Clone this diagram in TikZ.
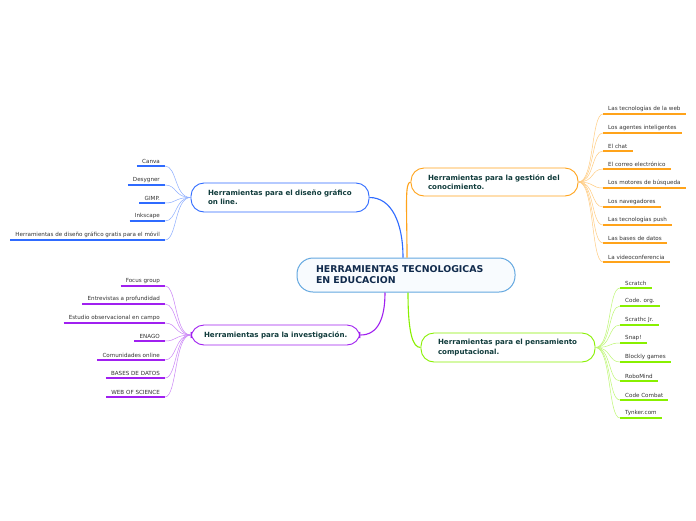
\documentclass[tikz,border=0pt]{standalone}
\usepackage{fontspec}
\setmainfont{DejaVu Sans}
\usetikzlibrary{positioning}

\definecolor{azul}{HTML}{2F6BFF}
\definecolor{naranja}{HTML}{FFA31A}
\definecolor{morado}{HTML}{A020F0}
\definecolor{verde}{HTML}{88F000}
\definecolor{rootline}{HTML}{64A8E0}
\definecolor{rootfill}{HTML}{F8FBFE}
\definecolor{rootink}{HTML}{102A4C}
\definecolor{branchink}{HTML}{113C3C}
\definecolor{leafink}{HTML}{333333}

\tikzset{
  root/.style={draw=rootline, fill=rootfill, line width=1pt, rounded corners=16,
    minimum height=34, inner xsep=19, text width=180, align=left, text=rootink,
    font=\bfseries\fontsize{9.4}{11}\selectfont},
  branch/.style={draw=#1, fill=white, line width=0.9pt, rounded corners=13,
    align=left, text=branchink, font=\bfseries\fontsize{7.1}{9.4}\selectfont},
  leaf/.style={inner xsep=5, inner ysep=2.2, text=leafink,
    font=\fontsize{5.6}{6.5}\selectfont},
  link/.style={draw=#1, line width=1.1pt},
  twig/.style={draw=#1!55, line width=0.5pt},
  uline/.style={draw=#1, line width=1.5pt}
}

\begin{document}
\begin{tikzpicture}[x=1pt,y=-1pt]
			\useasboundingbox[fill=white] (0,0) rectangle (696,520);
			% Central topic
			\node[root] (root) at (406,275) {HERRAMIENTAS TECNOLOGICAS\\EN EDUCACION};
			% Main branches
			\node[branch=azul, inner xsep=17, text width=144, minimum height=29] (diseno) at (280,197.5)
				{\mbox{Herramientas para el diseño gráfico}\\on line.};
			\node[branch=naranja, inner xsep=17, text width=133, minimum height=28] (gestion) at (494.5,182)
				{\mbox{Herramientas para la gestión del}\\conocimiento.};
			\node[branch=morado, inner xsep=13, text width=143, minimum height=20] (investiga) at (275.5,335)
				{\mbox{Herramientas para la investigación.}};
			\node[branch=verde, inner xsep=17, text width=140, minimum height=29] (pensa) at (508,347.5)
				{\mbox{Herramientas para el pensamiento}\\computacional.};
			% Links from the central topic
			\draw[link=azul] ([xshift=-3]root.north) .. controls +(0,-35) and +(22,0) .. (diseno.east);
			\draw[link=naranja] ([xshift=1]root.north) .. controls +(0,-50) and +(-6,0) .. (gestion.west);
			\draw[link=morado] ([xshift=-21]root.south) .. controls +(0,25) and +(18,0) .. (investiga.east);
			\draw[link=verde] ([xshift=2]root.south) .. controls +(0,40) and +(-8,0) .. (pensa.west);
			% Design tools
			\node[leaf, anchor=south east] (canva) at (165,166) {Canva};
			\node[leaf, anchor=south east] (desygner) at (165,185) {Desygner};
			\node[leaf, anchor=south east] (gimp) at (165,203) {GIMP.};
			\node[leaf, anchor=south east] (inkscape) at (165,221) {Inkscape};
			\node[leaf, anchor=south east] (movil) at (165,240) {Herramientas de diseño gráfico gratis para el móvil};
			\draw[twig=azul] (diseno.west) .. controls +(-16,0) and +(12,0) .. (canva.south east);
			\draw[twig=azul] (diseno.west) .. controls +(-16,0) and +(12,0) .. (desygner.south east);
			\draw[twig=azul] (diseno.west) .. controls +(-16,0) and +(12,0) .. (gimp.south east);
			\draw[twig=azul] (diseno.west) .. controls +(-16,0) and +(12,0) .. (inkscape.south east);
			\draw[twig=azul] (diseno.west) .. controls +(-16,0) and +(12,0) .. (movil.south east);
			\draw[uline=azul] (canva.south west) -- (canva.south east);
			\draw[uline=azul] (desygner.south west) -- (desygner.south east);
			\draw[uline=azul] (gimp.south west) -- (gimp.south east);
			\draw[uline=azul] (inkscape.south west) -- (inkscape.south east);
			\draw[uline=azul] (movil.south west) -- (movil.south east);
			% Knowledge management tools
			\node[leaf, anchor=south west] (web) at (603,114) {Las tecnologías de la web};
			\node[leaf, anchor=south west] (agentes) at (603,133) {Los agentes inteligentes};
			\node[leaf, anchor=south west] (chat) at (603,151) {El chat};
			\node[leaf, anchor=south west] (correo) at (603,169) {El correo electrónico};
			\node[leaf, anchor=south west] (motores) at (603,188) {Los motores de búsqueda};
			\node[leaf, anchor=south west] (navega) at (603,207) {Los navegadores};
			\node[leaf, anchor=south west] (push) at (603,225) {Las tecnologías push};
			\node[leaf, anchor=south west] (bases) at (603,243) {Las bases de datos};
			\node[leaf, anchor=south west] (video) at (603,262) {La videoconferencia};
			\draw[twig=naranja] (gestion.east) .. controls +(16,0) and +(-12,0) .. (web.south west);
			\draw[twig=naranja] (gestion.east) .. controls +(16,0) and +(-12,0) .. (agentes.south west);
			\draw[twig=naranja] (gestion.east) .. controls +(16,0) and +(-12,0) .. (chat.south west);
			\draw[twig=naranja] (gestion.east) .. controls +(16,0) and +(-12,0) .. (correo.south west);
			\draw[twig=naranja] (gestion.east) .. controls +(16,0) and +(-12,0) .. (motores.south west);
			\draw[twig=naranja] (gestion.east) .. controls +(16,0) and +(-12,0) .. (navega.south west);
			\draw[twig=naranja] (gestion.east) .. controls +(16,0) and +(-12,0) .. (push.south west);
			\draw[twig=naranja] (gestion.east) .. controls +(16,0) and +(-12,0) .. (bases.south west);
			\draw[twig=naranja] (gestion.east) .. controls +(16,0) and +(-12,0) .. (video.south west);
			\draw[uline=naranja] (web.south west) -- (web.south east);
			\draw[uline=naranja] (agentes.south west) -- (agentes.south east);
			\draw[uline=naranja] (chat.south west) -- (chat.south east);
			\draw[uline=naranja] (correo.south west) -- (correo.south east);
			\draw[uline=naranja] (motores.south west) -- (motores.south east);
			\draw[uline=naranja] (navega.south west) -- (navega.south east);
			\draw[uline=naranja] (push.south west) -- (push.south east);
			\draw[uline=naranja] (bases.south west) -- (bases.south east);
			\draw[uline=naranja] (video.south west) -- (video.south east);
			% Research tools
			\node[leaf, anchor=south east] (focus) at (165,286) {Focus group};
			\node[leaf, anchor=south east] (entrevistas) at (165,304) {Entrevistas a profundidad};
			\node[leaf, anchor=south east] (estudio) at (165,323) {Estudio observacional en campo};
			\node[leaf, anchor=south east] (enago) at (165,341) {ENAGO};
			\node[leaf, anchor=south east] (comunidades) at (165,360) {Comunidades online};
			\node[leaf, anchor=south east] (basesdatos) at (165,378) {BASES DE DATOS};
			\node[leaf, anchor=south east] (wos) at (165,397) {WEB OF SCIENCE};
			\draw[twig=morado] (investiga.west) .. controls +(-16,0) and +(12,0) .. (focus.south east);
			\draw[twig=morado] (investiga.west) .. controls +(-16,0) and +(12,0) .. (entrevistas.south east);
			\draw[twig=morado] (investiga.west) .. controls +(-16,0) and +(12,0) .. (estudio.south east);
			\draw[twig=morado] (investiga.west) .. controls +(-16,0) and +(12,0) .. (enago.south east);
			\draw[twig=morado] (investiga.west) .. controls +(-16,0) and +(12,0) .. (comunidades.south east);
			\draw[twig=morado] (investiga.west) .. controls +(-16,0) and +(12,0) .. (basesdatos.south east);
			\draw[twig=morado] (investiga.west) .. controls +(-16,0) and +(12,0) .. (wos.south east);
			\draw[uline=morado] (focus.south west) -- (focus.south east);
			\draw[uline=morado] (entrevistas.south west) -- (entrevistas.south east);
			\draw[uline=morado] (estudio.south west) -- (estudio.south east);
			\draw[uline=morado] (enago.south west) -- (enago.south east);
			\draw[uline=morado] (comunidades.south west) -- (comunidades.south east);
			\draw[uline=morado] (basesdatos.south west) -- (basesdatos.south east);
			\draw[uline=morado] (wos.south west) -- (wos.south east);
			% Computational thinking tools
			\node[leaf, anchor=south west] (scratch) at (620,288) {Scratch};
			\node[leaf, anchor=south west] (codeorg) at (620,306) {Code. org.};
			\node[leaf, anchor=south west] (scratchjr) at (620,325) {Scrathc Jr.};
			\node[leaf, anchor=south west] (snap) at (620,343) {Snap!};
			\node[leaf, anchor=south west] (blockly) at (620,362) {Blockly games};
			\node[leaf, anchor=south west] (robomind) at (620,381) {RoboMind};
			\node[leaf, anchor=south west] (combat) at (620,400) {Code Combat};
			\node[leaf, anchor=south west] (tynker) at (620,418) {Tynker.com};
			\draw[twig=verde] (pensa.east) .. controls +(16,0) and +(-12,0) .. (scratch.south west);
			\draw[twig=verde] (pensa.east) .. controls +(16,0) and +(-12,0) .. (codeorg.south west);
			\draw[twig=verde] (pensa.east) .. controls +(16,0) and +(-12,0) .. (scratchjr.south west);
			\draw[twig=verde] (pensa.east) .. controls +(16,0) and +(-12,0) .. (snap.south west);
			\draw[twig=verde] (pensa.east) .. controls +(16,0) and +(-12,0) .. (blockly.south west);
			\draw[twig=verde] (pensa.east) .. controls +(16,0) and +(-12,0) .. (robomind.south west);
			\draw[twig=verde] (pensa.east) .. controls +(16,0) and +(-12,0) .. (combat.south west);
			\draw[twig=verde] (pensa.east) .. controls +(16,0) and +(-12,0) .. (tynker.south west);
			\draw[uline=verde] (scratch.south west) -- (scratch.south east);
			\draw[uline=verde] (codeorg.south west) -- (codeorg.south east);
			\draw[uline=verde] (scratchjr.south west) -- (scratchjr.south east);
			\draw[uline=verde] (snap.south west) -- (snap.south east);
			\draw[uline=verde] (blockly.south west) -- (blockly.south east);
			\draw[uline=verde] (robomind.south west) -- (robomind.south east);
			\draw[uline=verde] (combat.south west) -- (combat.south east);
			\draw[uline=verde] (tynker.south west) -- (tynker.south east);
		\end{tikzpicture}
\end{document}
